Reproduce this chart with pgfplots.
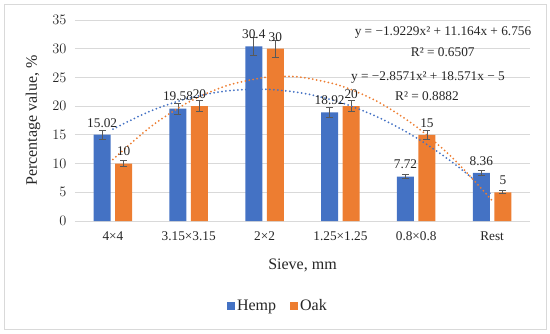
\documentclass[border=0pt]{standalone}
\usepackage{fontspec}
\setmainfont{Liberation Serif}
\usepackage{pgfplots}
\pgfplotsset{compat=1.18}

\definecolor{hemp}{HTML}{4472C4}
\definecolor{oak}{HTML}{ED7D31}
\definecolor{gridc}{HTML}{D9D9D9}
\definecolor{errc}{HTML}{595959}

\newcommand{\smallf}{\fontsize{13.3}{15}\selectfont}
\newcommand{\bigf}{\fontsize{16}{18}\selectfont}

\pgfplotsset{
    errlab/.style={forget plot, draw=none, mark=none, nodes near coords,
        point meta=explicit symbolic,
        every node near coord/.append style={font=\smallf, text=black!85, anchor=south, yshift=4pt},
        error bars/.cd, y dir=both, y fixed relative=0.05,
        error bar style={errc, line width=0.8pt},
        error mark options={rotate=90, mark size=3.5pt, errc, line width=0.8pt},
        /pgfplots/.cd},
}

\begin{document}
\begin{tikzpicture}[x=1pt,y=1pt]
\begin{axis}[
    scale only axis,
    width=455pt,
    height=201pt,
    xmin=0.5, xmax=6.5,
    ymin=0, ymax=35,
    ytick={0,5,...,35},
    xtick={1,2,3,4,5,6},
    xticklabels={4×4, 3.15×3.15, 2×2, 1.25×1.25, 0.8×0.8, Rest},
    axis y line*=left,
    axis x line*=bottom,
    x axis line style={draw=gridc, line width=0.8pt, -},
    y axis line style={draw=none},
    major tick length=0pt,
    ymajorgrids=true,
    grid style={draw=gridc, line width=0.8pt},
    tick label style={font=\smallf, text=black!85},
    xticklabel style={yshift=-7pt},
    yticklabel style={xshift=-5pt},
    xlabel={Sieve, mm},
    ylabel={Percentage value, \%},
    label style={font=\bigf, text=black!85},
    xlabel style={at={(axis description cs:0.5,-0.219)}, anchor=center},
    ylabel style={at={(axis description cs:-0.092,0.5)}, anchor=center},
    legend style={at={(axis description cs:0.446,-0.423)}, anchor=center,
        draw=none, legend columns=2, font=\bigf, text=black!85,
        /tikz/every even column/.append style={column sep=12pt}},
    legend image code/.code={\fill[#1] (0pt,-4pt) rectangle (8pt,4pt);},
    clip=false,
]
\addplot[ybar, bar width=17pt, bar shift=-10.75pt, fill=hemp, draw=none]
    coordinates {(1,15.02) (2,19.58) (3,30.4) (4,18.92) (5,7.72) (6,8.36)};
\addlegendentry{Hemp}
\addplot[ybar, bar width=17pt, bar shift=10.75pt, fill=oak, draw=none]
    coordinates {(1,10) (2,20) (3,30) (4,20) (5,15) (6,5)};
\addlegendentry{Oak}

% error bars (5 %) and data labels
\addplot[xshift=-10.75pt, errlab] table[meta=lab] {
x y lab
1 15.02 15.02
2 19.58 19.58
3 30.4 30.4
4 18.92 18.92
5 7.72 7.72
6 8.36 8.36
};
\addplot[xshift=10.75pt, errlab] table[meta=lab] {
x y lab
1 10 10
2 20 20
3 30 30
4 20 20
5 15 15
6 5 5
};

% polynomial trendlines (order 2)
\addplot[forget plot, smooth, hemp, line width=2pt, line cap=round, dash pattern=on 0pt off 4pt]
    coordinates {(1,15.997) (1.5,19.176) (2,21.392) (2.5,22.648) (3,22.942) (3.5,22.275)
                 (4,20.646) (4.5,18.055) (5,14.504) (5.5,9.990) (6,4.516)};
\addplot[forget plot, smooth, oak, line width=2pt, line cap=round, dash pattern=on 0pt off 4pt]
    coordinates {(1,10.714) (1.5,16.428) (2,20.714) (2.5,23.571) (3,24.999) (3.25,25.178) (3.5,24.999)
                 (4,23.570) (4.5,20.713) (5,16.428) (5.5,10.713) (6,3.570)};

\node[font=\smallf, text=black!85] at (axis cs:5.353,32.74) {y = −1.9229x² + 11.164x + 6.756};
\node[font=\smallf, text=black!85] at (axis cs:5.35,29.43) {R² = 0.6507};
\node[font=\smallf, text=black!85] at (axis cs:5.155,25.07) {y = −2.8571x² + 18.571x − 5};
\node[font=\smallf, text=black!85] at (axis cs:5.142,21.77) {R² = 0.8882};

\coordinate (o) at (rel axis cs:0,0);
\end{axis}
\draw[black!15, line width=0.8pt] ([shift={(-71pt,-108pt)}]o) rectangle ([shift={(471pt,217pt)}]o);
\path ([shift={(-75pt,-112pt)}]o) rectangle ([shift={(475pt,221pt)}]o);
\end{tikzpicture}
\end{document}
